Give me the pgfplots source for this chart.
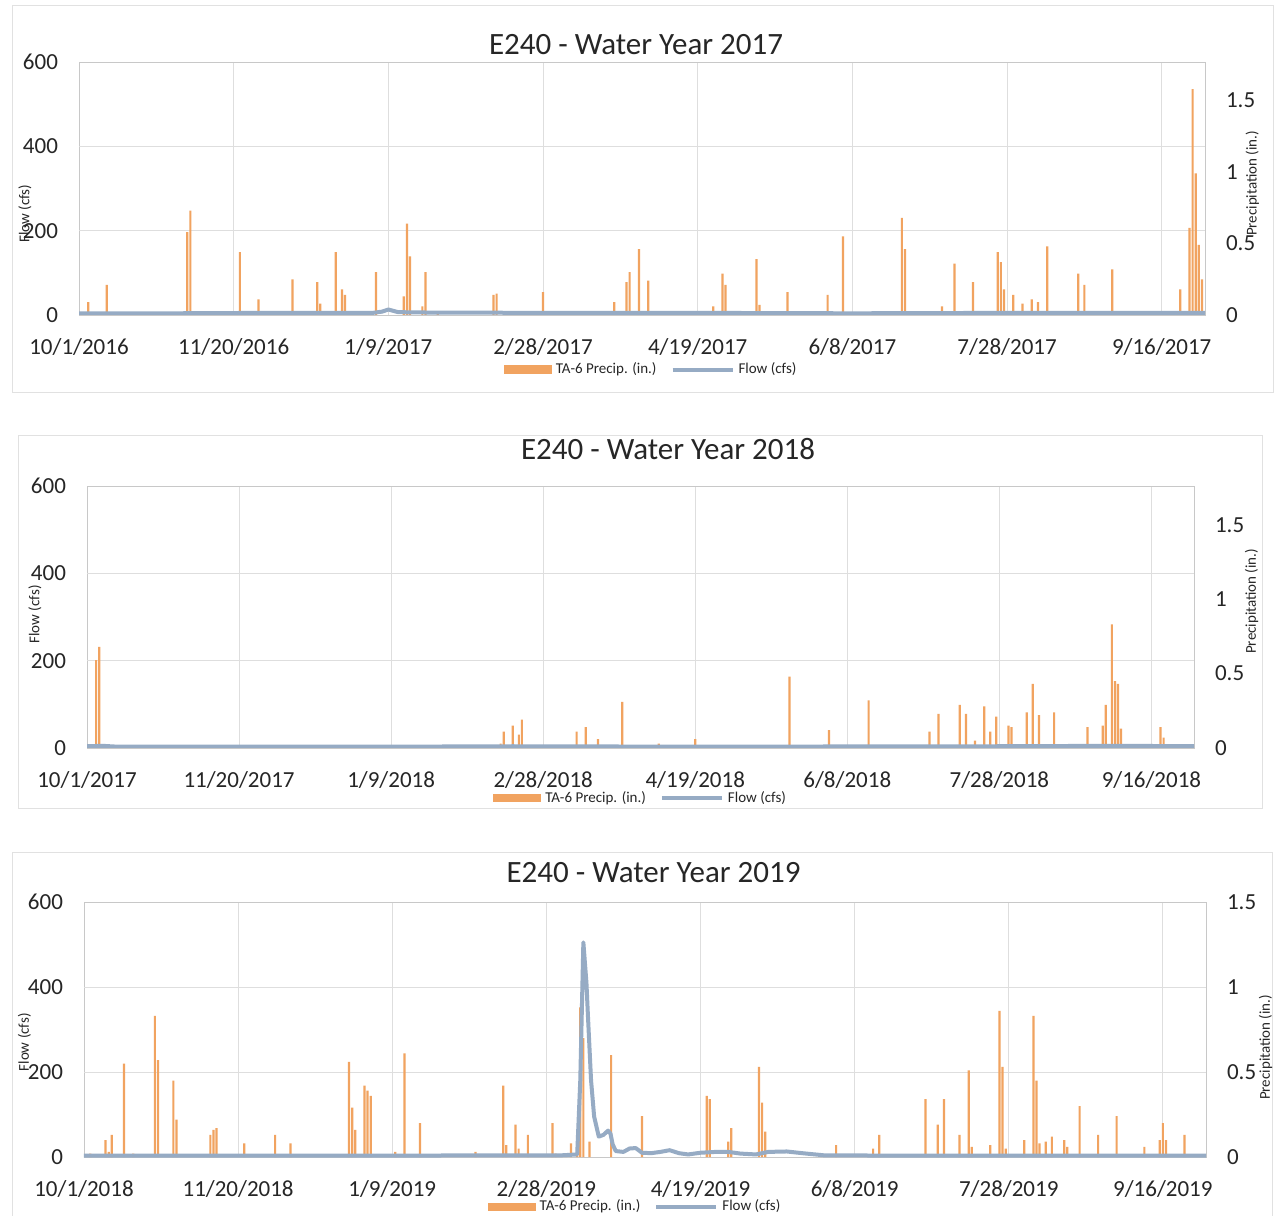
\documentclass[border=0pt]{standalone}
\usepackage{pgfplots}
\pgfplotsset{compat=1.18}
\usepackage{fontspec}
\setmainfont{Carlito}
\definecolor{precip}{RGB}{241,163,96}
\definecolor{flow}{RGB}{150,171,196}
\definecolor{gridc}{RGB}{222,222,222}
\definecolor{framec}{RGB}{200,200,200}
\definecolor{boxc}{RGB}{225,225,225}
\definecolor{txt}{RGB}{38,38,38}
\newcommand\tickfont{\fontsize{11.5}{13}\selectfont}
\newcommand\labfont{\fontsize{7.5}{9}\selectfont}
\newcommand\legfont{\fontsize{7.5}{9}\selectfont}
\newcommand\titfont{\fontsize{15.5}{18}\selectfont}

\pgfplotsset{
  precipax/.style={scale only axis, anchor=south west, xmin=0, xmax=364, ymin=0,
    xtick={0,50,...,350}, ytick={0,0.5,1,1.5}, yticklabels={0,0.5,1,1.5},
    yticklabel pos=right, axis line style={framec}, xmajorgrids,
    major grid style={gridc}, major tick length=0pt,
    tick label style={font=\tickfont, text=txt},
    xticklabel style={yshift=-8pt}, yticklabel style={xshift=7pt},
    extra y tick style={grid=major}, extra y tick labels={,},
    ylabel style={font=\labfont, text=txt, anchor=center},
    legend style={draw=none, fill=none, anchor=center, legend columns=2, font=\legfont, text=txt,
      /tikz/every even column/.append style={column sep=5pt}},
    /pgf/number format/assume math mode=true},
  flowax/.style={scale only axis, anchor=south west, xmin=0, xmax=364, ymin=0, ymax=600,
    xtick=\empty, ytick={0,200,400,600}, axis line style={draw=none}, major tick length=0pt,
    tick label style={font=\tickfont, text=txt}, yticklabel style={xshift=-7pt},
    ylabel style={font=\labfont, text=txt, anchor=center},
    /pgf/number format/assume math mode=true},
  bars/.style={ybar, bar width=1.1pt, fill=precip, draw=none,
    legend image code/.code={\fill[precip] (0pt,-2.2pt) rectangle (24pt,2.2pt);}},
  flowline/.style={flow, line width=2pt, line join=round},
}

\begin{document}
\begin{tikzpicture}
\useasboundingbox (0pt,0pt) rectangle (639.5pt,607.5pt);
\fill[white] (0pt,0pt) rectangle (639.5pt,607.5pt);
\draw[boxc] (6pt,411.5pt) rectangle (636.5pt,605pt);
\draw[boxc] (9pt,203.5pt) rectangle (631pt,390pt);
\draw[boxc] (6pt,-5pt) rectangle (636pt,181.5pt);

%================ Panel 1 ================
\begin{axis}[precipax, at={(39.5pt,450pt)}, width=563pt, height=126.5pt, ymax=1.77,
  extra y ticks={0.59,1.18},
  xticklabels={10/1/2016,11/20/2016,1/9/2017,2/28/2017,4/19/2017,6/8/2017,7/28/2017,9/16/2017},
  ylabel={Precipitation (in.)}, ylabel style={at={(axis description cs:1.042,0.52)}},
  legend style={at={(0.509,-0.217)}}]
\addplot[bars] coordinates {
(3,0.09) (9,0.21) (35,0.58) (36,0.73) (52,0.44) (58,0.11) (63,0.02) (69,0.25) (77,0.23) (78,0.08)
(83,0.44) (85,0.18) (86,0.14) (96,0.30) (105,0.13) (106,0.64) (107,0.41) (111,0.06) (112,0.30) (116,0.02)
(134,0.14) (135,0.15) (150,0.16) (173,0.09) (177,0.23) (178,0.30) (181,0.46) (184,0.24) (205,0.06) (208,0.29)
(209,0.21) (219,0.39) (220,0.07) (229,0.16) (242,0.14) (247,0.55) (266,0.68) (267,0.46) (279,0.06) (283,0.36)
(289,0.23) (297,0.44) (298,0.37) (299,0.18) (302,0.14) (305,0.08) (308,0.11) (310,0.09) (313,0.48) (323,0.29)
(325,0.21) (334,0.32) (356,0.18) (359,0.61) (360,1.58) (361,0.99) (362,0.49) (363,0.25)};
\addlegendentry{TA-6 Precip. (in.)}
\addlegendimage{legend image code/.code={\draw[flow, line width=2pt] (0pt,0pt) -- (30pt,0pt);}}
\addlegendentry{Flow (cfs)}
\end{axis}
\begin{axis}[flowax, at={(39.5pt,450pt)}, width=563pt, height=126.5pt,
  ylabel={Flow (cfs)}, ylabel style={at={(axis description cs:-0.048,0.40)}}]
\addplot[flowline] coordinates {
(0,4) (30,4) (60,5) (95,5) (98,8) (100,13) (103,7) (108,6) (150,5) (200,5) (250,4) (300,5) (340,5) (364,5)};
\end{axis}
\node[anchor=base, font=\titfont, text=txt] at (318pt,580pt) {E240 - Water Year 2017};

%================ Panel 2 ================
\begin{axis}[precipax, at={(43.5pt,233.5pt)}, width=553.5pt, height=131pt, ymax=1.76,
  extra y ticks={0.5867,1.1733},
  xticklabels={10/1/2017,11/20/2017,1/9/2018,2/28/2018,4/19/2018,6/8/2018,7/28/2018,9/16/2018},
  ylabel={Precipitation (in.)}, ylabel style={at={(axis description cs:1.052,0.56)}},
  legend style={at={(0.501,-0.191)}}]
\addplot[bars] coordinates {
(3,0.59) (4,0.68) (37,0.02) (136,0.03) (137,0.11) (140,0.15) (142,0.09) (143,0.19) (161,0.11) (164,0.14)
(168,0.06) (176,0.31) (188,0.03) (200,0.06) (231,0.48) (244,0.12) (257,0.32) (277,0.11) (280,0.23) (287,0.29)
(289,0.23) (292,0.05) (295,0.28) (297,0.11) (299,0.21) (303,0.15) (304,0.14) (309,0.24) (311,0.43) (313,0.22)
(318,0.24) (329,0.14) (334,0.15) (335,0.29) (337,0.83) (338,0.45) (339,0.43) (340,0.13) (353,0.14) (354,0.07)};
\addlegendentry{TA-6 Precip. (in.)}
\addlegendimage{legend image code/.code={\draw[flow, line width=2pt] (0pt,0pt) -- (30pt,0pt);}}
\addlegendentry{Flow (cfs)}
\end{axis}
\begin{axis}[flowax, at={(43.5pt,233.5pt)}, width=553.5pt, height=131pt,
  ylabel={Flow (cfs)}, ylabel style={at={(axis description cs:-0.047,0.51)}}]
\addplot[flowline] coordinates {
(0,4) (5,5) (10,3) (100,3) (140,4) (200,3) (300,4) (340,5) (364,4)};
\end{axis}
\node[anchor=base, font=\titfont, text=txt] at (334pt,377.5pt) {E240 - Water Year 2018};

%================ Panel 3 ================
\begin{axis}[precipax, at={(42pt,29pt)}, width=561pt, height=127.5pt, ymax=1.5,
  extra y ticks={0.5,1.0},
  xticklabels={10/1/2018,11/20/2018,1/9/2019,2/28/2019,4/19/2019,6/8/2019,7/28/2019,9/16/2019},
  ylabel={Precipitation (in.)}, ylabel style={at={(axis description cs:1.053,0.43)}},
  legend style={at={(0.492,-0.196)}}]
\addplot[bars] coordinates {
(2,0.02) (7,0.10) (8,0.03) (9,0.13) (13,0.55) (16,0.02) (23,0.83) (24,0.57) (29,0.45) (30,0.22)
(41,0.13) (42,0.16) (43,0.17) (52,0.08) (62,0.13) (67,0.08) (86,0.56) (87,0.29) (88,0.16) (91,0.42)
(92,0.39) (93,0.36) (101,0.03) (104,0.61) (109,0.20) (127,0.03) (136,0.42) (137,0.07) (140,0.19) (141,0.05)
(144,0.13) (152,0.20) (153,0.02) (158,0.08) (160,0.10) (161,0.88) (162,0.70) (164,0.09) (171,0.60) (181,0.24)
(202,0.36) (203,0.34) (209,0.09) (210,0.17) (219,0.53) (220,0.32) (221,0.15) (244,0.07) (256,0.05) (258,0.13)
(273,0.34) (277,0.19) (279,0.34) (284,0.13) (287,0.51) (288,0.06) (294,0.07) (297,0.86) (298,0.53) (299,0.05)
(305,0.10) (308,0.83) (309,0.45) (310,0.08) (312,0.09) (314,0.12) (318,0.10) (319,0.06) (323,0.30) (329,0.13)
(335,0.24) (344,0.06) (349,0.10) (350,0.20) (351,0.10) (357,0.13)};
\addlegendentry{TA-6 Precip. (in.)}
\addlegendimage{legend image code/.code={\draw[flow, line width=2pt] (0pt,0pt) -- (30pt,0pt);}}
\addlegendentry{Flow (cfs)}
\end{axis}
\begin{axis}[flowax, at={(42pt,29pt)}, width=561pt, height=127.5pt,
  ylabel={Flow (cfs)}, ylabel style={at={(axis description cs:-0.053,0.45)}}]
\addplot[flowline] coordinates {
(0,3) (40,3) (100,3) (130,4) (155,4) (160,6) (161,180) (162,505) (163,410) (163.5,330) (164.5,180)
(165.5,95) (167,48) (168.5,52) (170,62) (170.8,55) (171.5,30) (172.5,14) (175,12) (177,20) (179,21)
(181,10) (184,9) (187,12) (190,16) (193,9) (196,6) (200,10) (205,12) (209,12) (213,8) (218,6)
(222,12) (228,13) (233,9) (240,4) (270,3) (364,3)};
\end{axis}
\node[anchor=base, font=\titfont, text=txt] at (326.75pt,166pt) {E240 - Water Year 2019};
\end{tikzpicture}
\end{document}
